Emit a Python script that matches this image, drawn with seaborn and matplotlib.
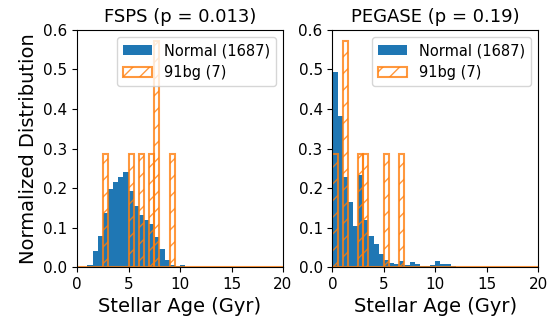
import numpy as np
import pandas as pd
import matplotlib
matplotlib.use("Agg")
import matplotlib.pyplot as plt
import seaborn as sns

# Age bins (Gyr), 0.5 Gyr wide over 0-20 Gyr
bin_width = 0.5
age_range = (0.0, 20.0)

# Normalized distribution of the normal SN Ia host ages (density per bin, starting at 0 Gyr)
fsps_normal = [0.0, 0.0, 0.006, 0.041, 0.078, 0.137, 0.197, 0.215, 0.229, 0.241,
               0.192, 0.154, 0.133, 0.119, 0.108, 0.076, 0.047, 0.019, 0.005, 0.004,
               0.006]
pegase_normal = [0.494, 0.383, 0.229, 0.164, 0.103, 0.233, 0.120, 0.079, 0.059, 0.032,
                 0.019, 0.010, 0.008, 0.015, 0.006, 0.012, 0.007, 0.004, 0.003, 0.005,
                 0.015, 0.008, 0.008, 0.004]

# Counts of 91bg-like hosts per bin (7 objects)
fsps_91bg = [0, 0, 0, 0, 0, 1, 0, 0, 0, 0, 1, 0, 1, 0, 1, 2, 0, 0, 1]
pegase_91bg = [1, 0, 2, 0, 0, 1, 1, 0, 0, 0, 1, 0, 0, 1]

titles = ["FSPS (p = 0.013)", "PEGASE (p = 0.19)"]
normal_label = "Normal (1687)"
bg_label = "91bg (7)"

plt.rcParams["font.family"] = ["DejaVu Sans"]
plt.rcParams["hatch.linewidth"] = 1.0

fig, axes = plt.subplots(1, 2, figsize=(5.47, 3.25), dpi=100)
fig.subplots_adjust(left=0.141, right=0.984, bottom=0.178, top=0.908, wspace=0.24)


def centers(n):
    return [age_range[0] + bin_width * (i + 0.5) for i in range(n)]


for ax, title, normal, bg in zip(axes, titles,
                                 [fsps_normal, pegase_normal],
                                 [fsps_91bg, pegase_91bg]):
    df_n = pd.DataFrame({"age": centers(len(normal)), "w": normal})
    df_b = pd.DataFrame({"age": centers(len(bg)), "w": bg})
    sns.histplot(data=df_n, x="age", weights="w", binwidth=bin_width,
                 binrange=age_range, stat="count",
                 color="#1f77b4", alpha=1.0, linewidth=0, ax=ax, label=normal_label)
    sns.histplot(data=df_b, x="age", weights="w", binwidth=bin_width,
                 binrange=age_range, stat="density",
                 fill=False, color="#ff7f0e", linewidth=1.5, hatch="//",
                 alpha=0.8, ax=ax, label=bg_label)
    ax.set_xlim(0, 20)
    ax.set_ylim(0, 0.6)
    ax.set_xticks([0, 5, 10, 15, 20])
    ax.set_yticks(np.arange(0, 0.61, 0.1))
    ax.set_yticklabels([f"{v:.1f}" for v in np.arange(0, 0.61, 0.1)])
    ax.tick_params(labelsize=11)
    ax.set_title(title, fontsize=13)
    ax.set_xlabel("Stellar Age (Gyr)", fontsize=14)
    ax.set_ylabel("")
    ax.legend(loc="upper right", fontsize=10.5)

axes[0].set_ylabel("Normalized Distribution", fontsize=14)

fig.savefig("out.png", dpi=100)
